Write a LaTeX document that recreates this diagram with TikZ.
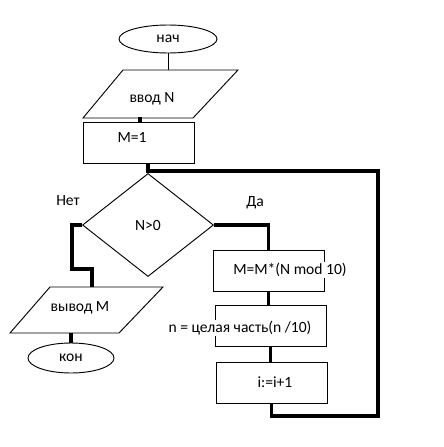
\documentclass[tikz,border=0pt]{standalone}
\usepackage{fontspec}
\setmainfont{Carlito}
\usetikzlibrary{shapes.geometric}

\begin{document}
\begin{tikzpicture}[x=0.03cm,y=-0.03cm,
  every node/.style={font=\fontsize{13.3}{15}\selectfont},
  termnode/.style={ellipse,draw,line width=0.8pt,inner sep=0pt},
  procnode/.style={rectangle,draw,line width=0.8pt,inner sep=0pt,
                   minimum width=3.33cm,minimum height=1.23cm},
  decnode/.style={diamond,draw,line width=0.8pt,inner sep=0pt,
                  minimum width=3.93cm,minimum height=3.09cm},
  boxtxt/.style={fill=white,inner sep=1pt},
  ioshape/.style={draw,line width=0.8pt,line join=miter},
  thinlink/.style={line width=0.8pt},
  thicklink/.style={line width=3.4pt}]

  \useasboundingbox (0,0) rectangle (443,447);

  % ===== start, input, init =====
  \node[termnode,minimum width=2.94cm,minimum height=0.84cm] (nach) at (168,39) {нач};
  \draw[ioshape] (123,70) -- (238,70) -- (193,118) -- (83,118) -- cycle;
  \node (vvod) at (152,99) {ввод N};
  \coordinate (vvodtop) at (167,70);
  \coordinate (vvodbot) at (140,117);
  \node[procnode] (m1) at (138.5,142.5) {};
  \node[boxtxt] (m1txt) at (132,137) {M=1};

  % ===== condition =====
  \node[decnode] (dec) at (148,225) {N>0};
  \node (net) at (68,201) {Нет};
  \node (da) at (255,203) {Да};

  % ===== loop body =====
  \node[procnode] (mulbox) at (268.5,270.5) {};
  \node[boxtxt] (multxt) at (290,270) {M=M*(N mod 10)};
  \node[procnode] (divbox) at (270.5,325.5) {};
  \node[boxtxt] (divtxt) at (240,328) {n = целая часть(n /10)};
  \node[procnode] (incbox) at (271.5,383) {};
  \node[boxtxt] (inctxt) at (275,382) {i:=i+1};

  % ===== output, end =====
  \draw[ioshape] (50,287) -- (163,287) -- (119,333) -- (10,333) -- cycle;
  \node (vyvod) at (80,308) {вывод M};
  \coordinate (outin) at (92,287);
  \coordinate (outbot) at (71,333);
  \node[termnode,minimum width=2.58cm,minimum height=0.9cm] (kon) at (71,358) {кон};

  % ===== links =====
  \draw[thinlink] (nach.south) -- (nach.south |- vvodtop);
  \draw[thicklink] (vvodbot) -- (vvodbot |- m1.north);
  \draw[thicklink] (m1.south -| dec.north) -- (dec.north);
  \draw[thicklink] (dec.east) -| (mulbox.north);
  \draw[thicklink] (mulbox.south) -- (mulbox.south |- divbox.north);
  \draw[thicklink] (divbox.south) -- (divbox.south |- incbox.north);

  % ===== back to the condition =====
  \coordinate (loopbot) at (273,416);
  \coordinate (loopright) at (378,171);
  \draw[thicklink] (incbox.south) -- (incbox.south |- loopbot) -| (loopright)
     -- (loopright -| dec.north);

  % ===== no-branch =====
  \coordinate (nobend) at (72,269);
  \draw[thicklink] (dec.west) -| (nobend) -| (outin);
  \draw[thicklink] (outbot) -- (kon.north);

\end{tikzpicture}
\end{document}
